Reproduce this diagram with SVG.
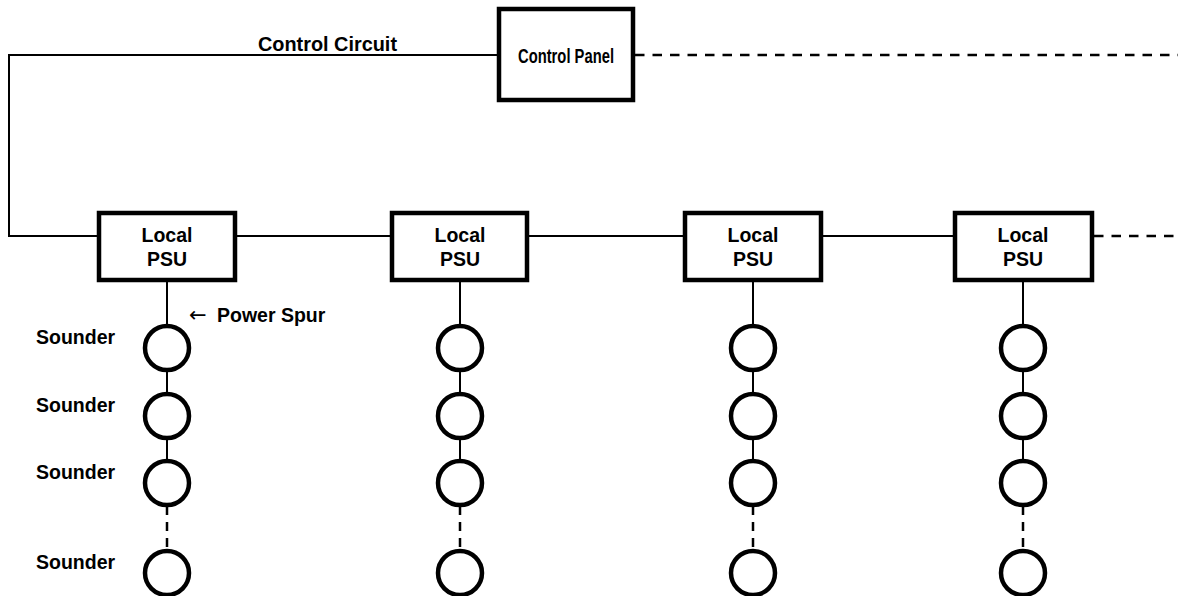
<svg xmlns="http://www.w3.org/2000/svg" width="1178" height="596" viewBox="0 0 1178 596">
<style>
.box{fill:#fff;stroke:#000;stroke-width:4.5}
.snd{fill:#fff;stroke:#000;stroke-width:4.5}
.w{fill:none;stroke:#000;stroke-width:2}
.d{fill:none;stroke:#000;stroke-width:2.5;stroke-dasharray:9.5 8}
.dv{fill:none;stroke:#000;stroke-width:2.5;stroke-dasharray:9 7}
text{font-family:"Liberation Sans",Arial,Helvetica,sans-serif;font-weight:bold;font-size:19.5px;fill:#000}
.c{text-anchor:middle}
.arr{font-family:"DejaVu Sans",sans-serif;font-weight:normal;font-size:21px}
</style>
<rect width="1178" height="596" fill="#fff"/>
<g id="connectors">
<polyline class="w" points="499,55 9,55 9,236 99,236"/>
<line class="d" x1="635" y1="55" x2="1178" y2="55"/>
<line class="w" x1="235" y1="236" x2="392" y2="236"/>
<line class="w" x1="527" y1="236" x2="685" y2="236"/>
<line class="w" x1="821" y1="236" x2="955" y2="236"/>
<line class="d" x1="1094" y1="236" x2="1178" y2="236"/>
<g id="spur1">
<line class="w" x1="167" y1="282" x2="167" y2="326"/>
<line class="w" x1="167" y1="370" x2="167" y2="394"/>
<line class="w" x1="167" y1="438" x2="167" y2="461"/>
<line class="dv" x1="167" y1="506" x2="167" y2="551"/>
</g>
<g id="spur2">
<line class="w" x1="460" y1="282" x2="460" y2="326"/>
<line class="w" x1="460" y1="370" x2="460" y2="394"/>
<line class="w" x1="460" y1="438" x2="460" y2="461"/>
<line class="dv" x1="460" y1="506" x2="460" y2="551"/>
</g>
<g id="spur3">
<line class="w" x1="753" y1="282" x2="753" y2="326"/>
<line class="w" x1="753" y1="370" x2="753" y2="394"/>
<line class="w" x1="753" y1="438" x2="753" y2="461"/>
<line class="dv" x1="753" y1="506" x2="753" y2="551"/>
</g>
<g id="spur4">
<line class="w" x1="1023" y1="282" x2="1023" y2="326"/>
<line class="w" x1="1023" y1="370" x2="1023" y2="394"/>
<line class="w" x1="1023" y1="438" x2="1023" y2="461"/>
<line class="dv" x1="1023" y1="506" x2="1023" y2="551"/>
</g>
</g>
<g id="labels">
<text x="258" y="51" font-size="20" textLength="139" lengthAdjust="spacingAndGlyphs">Control Circuit</text>
<text x="189" y="322"><tspan class="arr">←</tspan><tspan x="217">Power Spur</tspan></text>
<text x="36" y="344">Sounder</text>
<text x="36" y="412">Sounder</text>
<text x="36" y="479">Sounder</text>
<text x="36" y="569">Sounder</text>
</g>
<g id="control-panel">
<rect class="box" x="499" y="9" width="134" height="91"/>
<text class="c" x="566" y="63" font-size="21" textLength="96" lengthAdjust="spacingAndGlyphs">Control Panel</text>
</g>
<g id="psu1">
<rect class="box" x="99" y="213" width="136" height="67"/>
<text class="c" x="167" y="242">Local</text>
<text class="c" x="167" y="266">PSU</text>
</g>
<g id="psu2">
<rect class="box" x="392" y="213" width="135" height="67"/>
<text class="c" x="460" y="242">Local</text>
<text class="c" x="460" y="266">PSU</text>
</g>
<g id="psu3">
<rect class="box" x="685" y="213" width="136" height="67"/>
<text class="c" x="753" y="242">Local</text>
<text class="c" x="753" y="266">PSU</text>
</g>
<g id="psu4">
<rect class="box" x="955" y="213" width="137" height="67"/>
<text class="c" x="1023" y="242">Local</text>
<text class="c" x="1023" y="266">PSU</text>
</g>
<g id="sounders1">
<circle class="snd" cx="167" cy="348" r="22"/>
<circle class="snd" cx="167" cy="416" r="22"/>
<circle class="snd" cx="167" cy="483" r="22"/>
<circle class="snd" cx="167" cy="573" r="22"/>
</g>
<g id="sounders2">
<circle class="snd" cx="460" cy="348" r="22"/>
<circle class="snd" cx="460" cy="416" r="22"/>
<circle class="snd" cx="460" cy="483" r="22"/>
<circle class="snd" cx="460" cy="573" r="22"/>
</g>
<g id="sounders3">
<circle class="snd" cx="753" cy="348" r="22"/>
<circle class="snd" cx="753" cy="416" r="22"/>
<circle class="snd" cx="753" cy="483" r="22"/>
<circle class="snd" cx="753" cy="573" r="22"/>
</g>
<g id="sounders4">
<circle class="snd" cx="1023" cy="348" r="22"/>
<circle class="snd" cx="1023" cy="416" r="22"/>
<circle class="snd" cx="1023" cy="483" r="22"/>
<circle class="snd" cx="1023" cy="573" r="22"/>
</g>
</svg>
